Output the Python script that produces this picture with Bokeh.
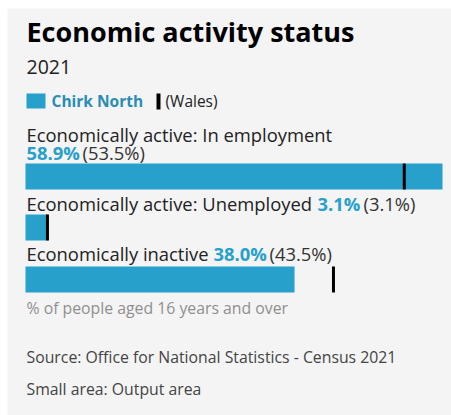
from bokeh.plotting import figure
from bokeh.models import Range1d, ColumnDataSource
from bokeh.core.properties import value
from bokeh.embed import file_html
from bokeh.resources import INLINE

# ---- data ----
title = "Economic activity status"
year = "2021"
area_name = "Chirk North"
compare_name = "(Wales)"
categories = ["Economically active: In employment",
              "Economically active: Unemployed",
              "Economically inactive"]
area_values = [58.9, 3.1, 38.0]
wales_values = [53.5, 3.1, 43.5]
unit_note = "% of people aged 16 years and over"
source_note = "Source: Office for National Statistics - Census 2021"
small_area_note = "Small area: Output area"

# ---- layout (page pixel coordinates) ----
W, H = 451, 415
BG = "#f4f4f4"
BLUE = "#27a0cc"
TXT = "#222222"
FONT = "Open Sans"
left_px = 25          # bar origin
bar_w_px = 417        # width of the largest bar
scale = bar_w_px / max(area_values)

p = figure(width=W, height=H, output_backend="svg", toolbar_location=None,
           x_range=Range1d(-left_px / scale, (W - left_px) / scale),
           y_range=Range1d(H, 0), min_border=0)
p.extra_x_ranges = {"px": Range1d(0, W)}
p.xaxis.visible = False
p.yaxis.visible = False
p.grid.visible = False
p.outline_line_color = None
p.background_fill_color = "#ffffff"
p.border_fill_color = "#ffffff"

# grey panel
p.quad(left=[7], right=[W], top=[8], bottom=[H], x_range_name="px",
       fill_color=BG, line_color=None)

def txt(x, y, s, size, color=TXT, style="normal"):
    yy = y - 0.4 * size
    p.text(x=[x], y=[yy], text=[s], x_range_name="px",
           text_font=value(FONT), text_font_size=f"{size}px",
           text_color=color, text_font_style=style,
           text_baseline="alphabetic", text_align="left")

# title, year
txt(26, 42, title, 27, color="#000000", style="bold")
txt(26, 74, year, 19.5)

# legend
p.quad(left=[26], right=[45], top=[93], bottom=[108], x_range_name="px",
       fill_color=BLUE, line_color=None)
txt(51, 107, area_name, 15.5, color="#2a8cb6", style="bold")
p.quad(left=[156], right=[160], top=[93], bottom=[109], x_range_name="px",
       fill_color="#000000", line_color=None)
txt(165, 107, compare_name, 15.5)

# rows
label_base = [141, 210, 260]
bar_top = [163, 214, 266]
bar_h = 26
val_pos = [(26, 159, 82), (317, 210, 363), (213, 260, 269)]

for i, cat in enumerate(categories):
    vx, vy, wx = val_pos[i]
    txt(26, label_base[i], cat, 18.4)
    txt(vx, vy, f"{area_values[i]:.1f}%", 18.4, color=BLUE, style="bold")
    txt(wx, vy, f"({wales_values[i]:.1f}%)", 18.4, color="#333333")

src = ColumnDataSource(dict(
    right=area_values,
    wales=wales_values,
    y=[t + bar_h / 2 for t in bar_top],
))
p.hbar(y="y", left=0, right="right", height=bar_h, source=src,
       fill_color=BLUE, line_color=None)
p.rect(x="wales", y="y", width=3, width_units="screen", height=bar_h,
       source=src, fill_color="#000000", line_color=None)

# notes
txt(26, 314, unit_note, 15.8, color="#8f8f8f")
txt(26, 363, source_note, 15.8, color="#444444")
txt(26, 395, small_area_note, 15.8, color="#444444")

open("out.html", "w").write(file_html(p, INLINE))
